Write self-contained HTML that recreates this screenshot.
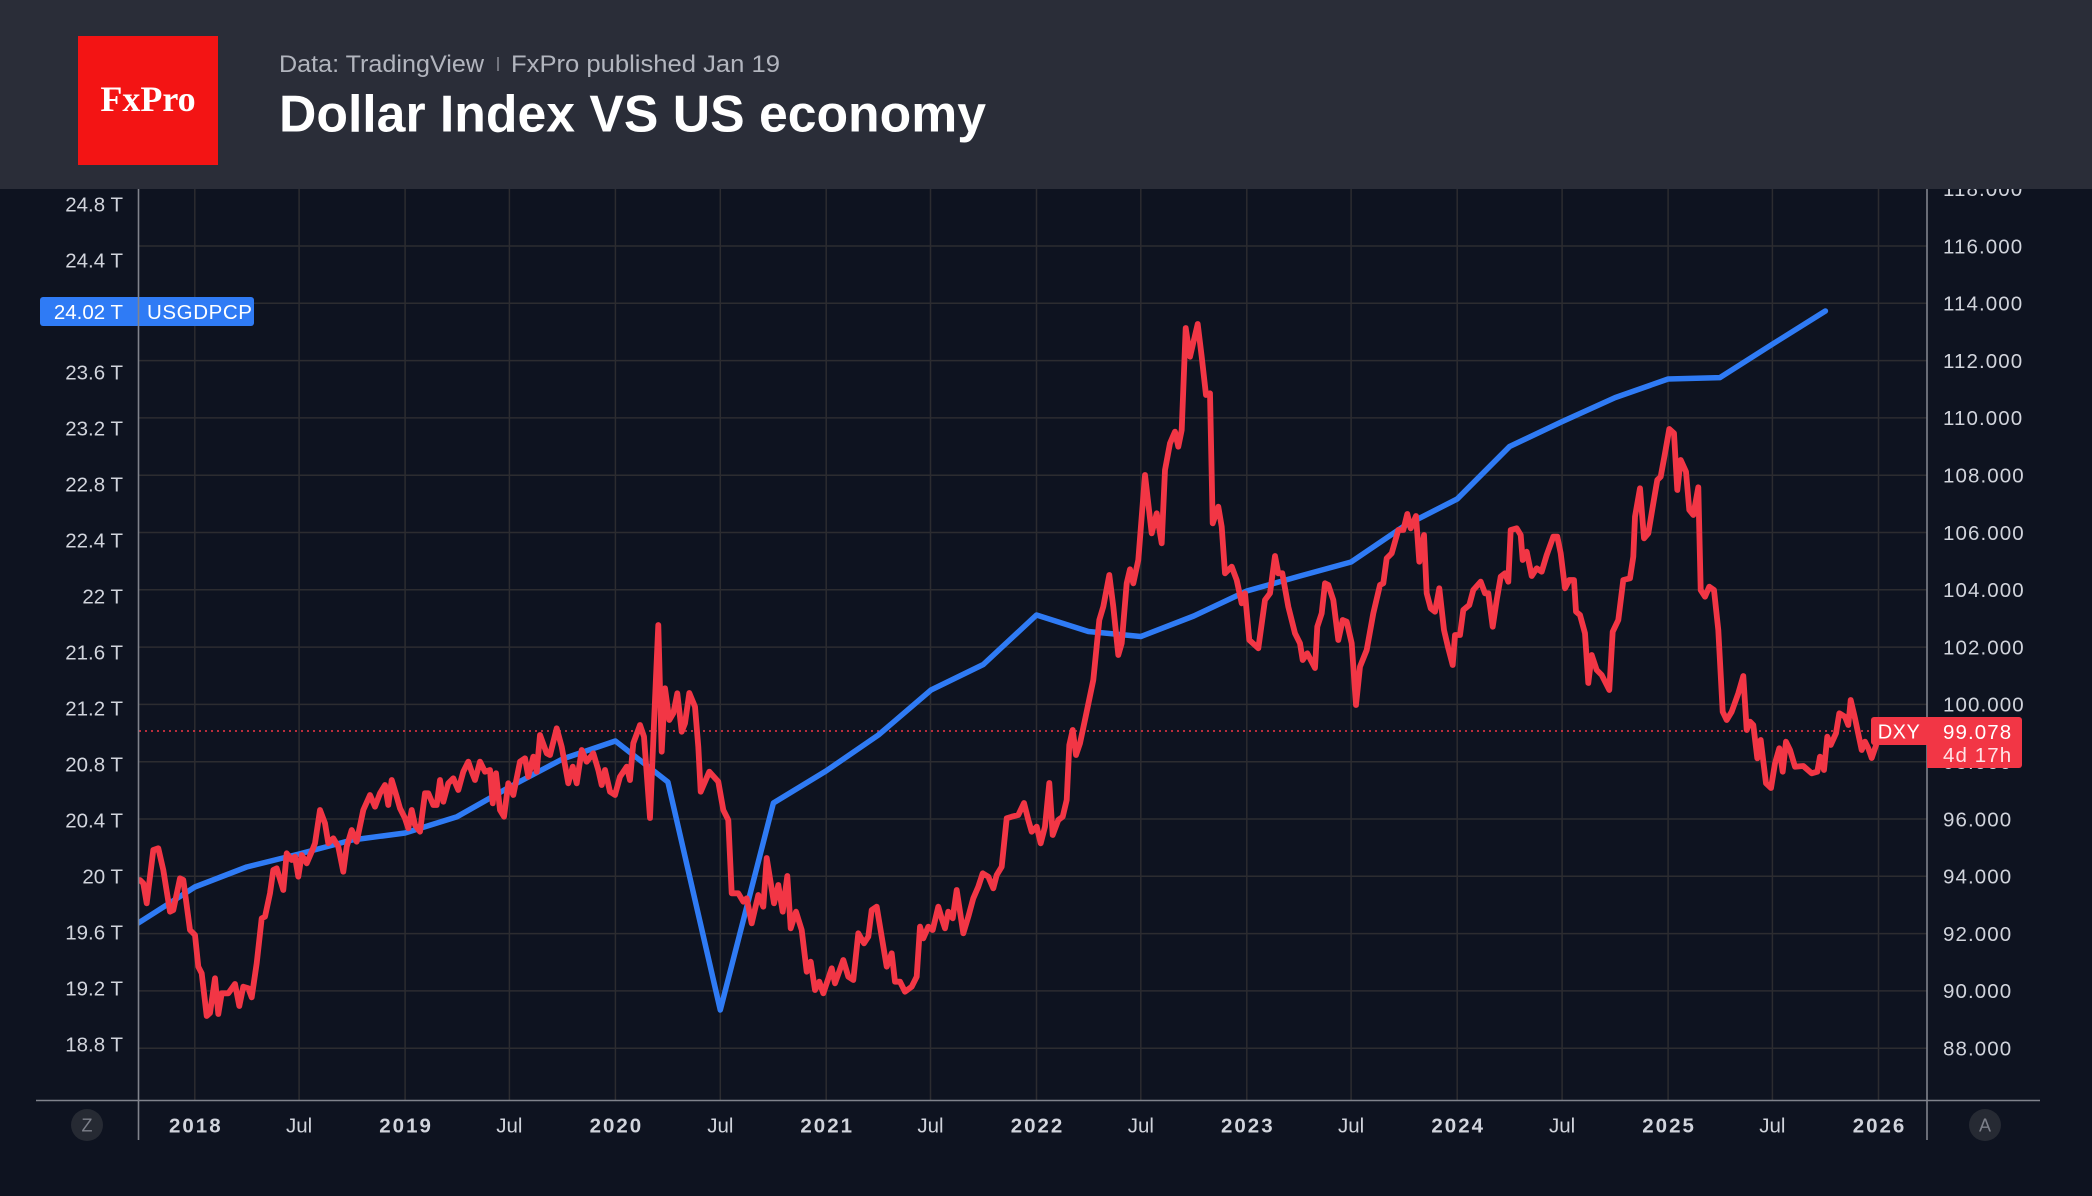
<!DOCTYPE html>
<html>
<head>
<meta charset="utf-8">
<style>
html,body{margin:0;padding:0;background:#0e1320;}
body{width:2092px;height:1196px;overflow:hidden;}
svg{display:block;}
text{font-family:"Liberation Sans",sans-serif;}
</style>
</head>
<body>
<svg width="2092" height="1196" viewBox="0 0 2092 1196" xmlns="http://www.w3.org/2000/svg">
<defs>
<clipPath id="plot"><rect x="139" y="189" width="1788" height="911"/></clipPath>
</defs>
<rect x="0" y="0" width="2092" height="1196" fill="#0e1320"/>

<!-- grid -->
<g stroke="#2c2c30" stroke-width="1.5">
<line x1="139" y1="246" x2="1927" y2="246"/>
<line x1="139" y1="303.3" x2="1927" y2="303.3"/>
<line x1="139" y1="360.6" x2="1927" y2="360.6"/>
<line x1="139" y1="417.9" x2="1927" y2="417.9"/>
<line x1="139" y1="475.2" x2="1927" y2="475.2"/>
<line x1="139" y1="532.5" x2="1927" y2="532.5"/>
<line x1="139" y1="589.8" x2="1927" y2="589.8"/>
<line x1="139" y1="647.1" x2="1927" y2="647.1"/>
<line x1="139" y1="704.4" x2="1927" y2="704.4"/>
<line x1="139" y1="761.7" x2="1927" y2="761.7"/>
<line x1="139" y1="819" x2="1927" y2="819"/>
<line x1="139" y1="876.3" x2="1927" y2="876.3"/>
<line x1="139" y1="933.6" x2="1927" y2="933.6"/>
<line x1="139" y1="990.9" x2="1927" y2="990.9"/>
<line x1="139" y1="1048.2" x2="1927" y2="1048.2"/>
<line x1="194.8" y1="189" x2="194.8" y2="1100"/>
<line x1="299.1" y1="189" x2="299.1" y2="1100"/>
<line x1="405.1" y1="189" x2="405.1" y2="1100"/>
<line x1="509.4" y1="189" x2="509.4" y2="1100"/>
<line x1="615.4" y1="189" x2="615.4" y2="1100"/>
<line x1="720.3" y1="189" x2="720.3" y2="1100"/>
<line x1="826.2" y1="189" x2="826.2" y2="1100"/>
<line x1="930.5" y1="189" x2="930.5" y2="1100"/>
<line x1="1036.5" y1="189" x2="1036.5" y2="1100"/>
<line x1="1140.8" y1="189" x2="1140.8" y2="1100"/>
<line x1="1246.8" y1="189" x2="1246.8" y2="1100"/>
<line x1="1351.1" y1="189" x2="1351.1" y2="1100"/>
<line x1="1457.2" y1="189" x2="1457.2" y2="1100"/>
<line x1="1562.1" y1="189" x2="1562.1" y2="1100"/>
<line x1="1668.1" y1="189" x2="1668.1" y2="1100"/>
<line x1="1772.4" y1="189" x2="1772.4" y2="1100"/>
<line x1="1878.5" y1="189" x2="1878.5" y2="1100"/>
</g>

<!-- dotted last-price line -->
<line x1="139" y1="731" x2="1870" y2="731" stroke="#f23645" stroke-width="1.6" stroke-dasharray="2 4"/>

<g clip-path="url(#plot)" fill="none" stroke-linejoin="round" stroke-linecap="round">
<!-- GDP (blue) -->
<polyline stroke="#2f7bf5" stroke-width="5.5" points="130,928 141.8,920.8 194.8,887 246.7,867 299,854 352,840 405,833 457.1,816.7 509.5,787 562.5,759 615.4,741 667.9,782 720.3,1010 773.4,803 826,771 878.4,735 931,690 983.3,664.5 1036.5,615 1088.4,631.5 1140.8,636.5 1193.8,616 1246.8,591 1298.7,576.4 1351.1,562 1404.2,526 1457.2,499 1509.6,446.5 1562.1,421.6 1615.1,397.6 1668.1,379 1720,377.6 1772.4,344.2 1825.4,311"/>
<!-- DXY (red) -->
<polyline stroke="#f23645" stroke-width="5.8" points="140,880 143.3,883.3 146.7,903.3 153.3,850 158.3,848.3 163.3,870 170,911.7 173.3,910 180,878.3 183.3,880 190,930 195,935 198.3,966.7 201.7,973.3 206.7,1016 210,1013 215,978.3 218.3,1014 221.7,993.3 228.3,993.3 235,984 239.3,1006 243.3,986.7 248.3,988.3 251.7,997.3 256.7,963.3 261.7,918.3 265,916.7 270,893.3 273.3,870 276.7,868.3 283.3,890 286.7,853.3 291.7,860 295,856.7 298.3,876.7 301.7,855 306.7,863.3 311.7,851.7 315,843.3 320,810 325,823.3 328.3,843.3 333.3,838.3 338.3,846.7 343.3,871.7 346.7,846.7 351.7,830 356.7,841.7 363.3,810 370,795 375,806.7 380,793.3 385,785 388.3,805 391.7,780 396.7,796.7 400,808.3 405,818.3 408.3,828.3 411.7,810 415,825 420,831.7 425,793.3 428.3,793.3 433.3,805 436.7,805 440,780 443.3,801.7 448.3,783.3 453.3,778.3 458.3,790 463.3,771.7 468.3,761.7 471.7,771.7 475,780 480,761.7 485,771.7 490,770 492.7,803.3 496,773.3 500,810 504,816.7 508.3,783.3 513.3,795 520,761.7 525,758.3 528.3,776.7 533.3,756.7 536.7,771.7 540,735 546.7,753.3 550,755 556.7,728.3 561.7,746.7 568.3,783.3 572.7,766.7 576.7,783.3 581.7,750 586.7,761.7 593.3,753.3 598.3,770 601.7,785 605,770 610,791.7 615,795 620,776.7 626.7,766.7 630,780 633.3,743.3 640,725 644,736.7 650,818 655,700 658.3,625 661.7,751.7 665,688.3 669.3,720 673.3,713.3 677.3,693.3 681.7,731.7 685,723.3 689.3,693 695,706.7 698.3,746.7 700.7,791.7 705,781.7 709.3,771.7 718.3,781.7 723.3,810 728.3,820 731.7,893.3 738.3,893.3 743.3,901.7 746.7,898.3 751.7,923.3 758.3,895 763.3,906.7 766.7,858 774,903.3 778.3,885 782.7,911.7 787.3,876 790.7,928.3 796,911.7 801.7,930 806.7,971.7 810.7,961.7 815,990 819.3,981.7 823.3,993.3 831.7,968.3 835,983.3 843.3,960 848.3,976.7 853.3,980 858.3,933.3 864,943.3 868.3,936.7 871.7,910 876.7,906.7 881.7,936.7 886.7,966.7 891.7,953.3 895,981.7 900,981.7 905,991.7 911.7,986.7 916.7,976.7 920,926.7 923.3,938.3 928.3,926.7 932.7,930 938.3,906.7 941.7,918.3 945,928.3 948.3,911.7 952.7,918.3 956.7,890 963.3,933.3 968.3,916.7 973.3,898.3 978.3,886.7 982.7,873.3 988.3,876.7 993.3,888.3 996.7,875 1001.7,866.7 1006.7,818.3 1011.7,816.7 1018.3,815 1024,803 1028.3,820 1031.7,831.7 1036.7,826.7 1040.7,843.3 1045,826.7 1049.3,783 1052.7,835 1058.3,820 1062.7,816.7 1066.7,800 1069.3,745 1072.7,730 1076,755 1080,743.3 1086,715 1093.3,680 1099.3,620 1103.3,606.7 1109.3,575 1113.3,606.7 1118.3,655 1121.7,643.3 1126.7,583.3 1130,569.3 1133.3,583.3 1138.3,560 1145,475 1151.7,533.3 1156.7,513.3 1161.7,543.3 1165,470 1170,443.3 1175,431.7 1178.3,446.7 1181.7,430 1185.7,328 1190,356.7 1197.7,324 1201.7,356.7 1206,395 1210,393.3 1212.7,523.3 1218.3,506.7 1221.7,526.7 1225,573.3 1231.7,566.7 1236.7,580 1241.7,603.3 1245,593.3 1249.3,640 1258.3,648.3 1265,600 1270,593.3 1275,556 1278.3,573.3 1282.3,573.3 1288.3,606.7 1295,633.3 1300,643.3 1302.7,660 1307.3,653.3 1315,668 1317.3,626.7 1321.7,613.3 1325,583.3 1328.3,585 1333.3,600 1338.3,640 1342.7,620 1346.7,621.7 1351.7,643.3 1356,705 1360,666.7 1366.7,650 1373.3,613.3 1380,585 1383.3,583.3 1386.7,558.3 1391.7,553.3 1398.3,530 1403.3,530 1407.3,514 1410.7,528.3 1416,516 1419.3,561.7 1424,535 1426.7,593.3 1430.7,608.3 1435,611.7 1439.3,588.3 1444,630 1448.3,648.3 1452.7,665 1455,635 1460,635 1463.3,610 1469.3,605 1473.3,590 1480.7,581.7 1485,593.3 1488.3,593.3 1492.7,626.7 1496.7,600 1500.7,576.7 1505,573.3 1508.3,581.7 1510.7,530 1516.7,528.3 1520.7,535 1522.7,560 1526.7,551.7 1531.7,576 1536.7,568.3 1541.7,571.7 1546.7,555 1553.3,536.7 1557.3,536.7 1560.7,553.3 1565,588.3 1569.3,580 1574,580 1576,611.7 1580,615 1585,633.3 1588.3,683 1591.7,655 1596.7,670 1601.7,675 1609.3,690 1612.7,631.7 1618.3,620 1623.3,580 1630,578.3 1633.3,556.7 1635,516.7 1640,488.3 1644,538.3 1648.3,533.3 1653.3,503.3 1657.3,480 1660.7,476.7 1665,453.3 1669.3,429 1674,433.3 1677.3,490 1680.7,460 1686,471.7 1689.3,510 1693.3,515 1698.3,487.3 1700.7,590 1705,596.7 1709.3,586.7 1714,590 1718.3,630 1722.7,711.7 1726.7,720 1731.7,711.7 1738.3,693.3 1743.3,676 1746.7,730 1750,721.7 1753.3,725 1757.3,758.3 1760.7,740 1766,783.3 1771,788 1775,763.3 1779.3,748.3 1782.7,771.7 1786,741.7 1790,750 1795,766.7 1803.3,766 1811.7,773.3 1817.3,771.7 1820,756.7 1824,770 1827.3,736.7 1830.7,745 1836,733.3 1839.3,713.3 1845,716.7 1848.3,725 1850.7,700 1855,718.3 1861.7,750 1865,741.7 1868.3,748.3 1871.7,758 1877.3,741.7 1880,731"/>
</g>

<!-- right axis labels -->
<g fill="#d1d4dc" font-size="20.5" letter-spacing="1.1">
<text x="1943" y="196">118.000</text>
<text x="1943" y="253.3">116.000</text>
<text x="1943" y="310.6">114.000</text>
<text x="1943" y="367.9">112.000</text>
<text x="1943" y="425.2">110.000</text>
<text x="1943" y="482.5">108.000</text>
<text x="1943" y="539.8">106.000</text>
<text x="1943" y="597.1">104.000</text>
<text x="1943" y="654.4">102.000</text>
<text x="1943" y="711.7">100.000</text>
<text x="1943" y="769">98.000</text>
<text x="1943" y="826.3">96.000</text>
<text x="1943" y="883.6">94.000</text>
<text x="1943" y="940.9">92.000</text>
<text x="1943" y="998.2">90.000</text>
<text x="1943" y="1055.5">88.000</text>
</g>

<!-- left axis labels -->
<g fill="#d1d4dc" font-size="20.5" text-anchor="end">
<text x="123" y="211.5">24.8 T</text>
<text x="123" y="267.5">24.4 T</text>
<text x="123" y="379.5">23.6 T</text>
<text x="123" y="435.5">23.2 T</text>
<text x="123" y="491.5">22.8 T</text>
<text x="123" y="547.5">22.4 T</text>
<text x="123" y="603.5">22 T</text>
<text x="123" y="659.5">21.6 T</text>
<text x="123" y="715.5">21.2 T</text>
<text x="123" y="771.5">20.8 T</text>
<text x="123" y="827.5">20.4 T</text>
<text x="123" y="883.5">20 T</text>
<text x="123" y="939.5">19.6 T</text>
<text x="123" y="995.5">19.2 T</text>
<text x="123" y="1051.5">18.8 T</text>
</g>

<!-- USGDPCP label -->
<rect x="40" y="297" width="214" height="29" rx="3" fill="#2f7bf5"/>
<text x="123" y="319" fill="#ffffff" font-size="20.5" text-anchor="end">24.02 T</text>
<text x="147" y="319" fill="#ffffff" font-size="20.5" letter-spacing="0.6">USGDPCP</text>

<!-- axes -->
<g stroke="#80838c" stroke-width="1.6">
<line x1="138.5" y1="189" x2="138.5" y2="1140"/>
<line x1="1927" y1="189" x2="1927" y2="1140"/>
<line x1="36" y1="1100.5" x2="2040" y2="1100.5"/>
</g>

<!-- DXY labels -->
<path d="M1874,717 H1927 V745 H1874 A3,3 0 0 1 1871,742 V720 A3,3 0 0 1 1874,717 Z" fill="#f23645"/>
<text x="1899" y="738.5" fill="#ffffff" font-size="20" text-anchor="middle" letter-spacing="0.5">DXY</text>
<path d="M1927,717 H2019 A3,3 0 0 1 2022,720 V765 A3,3 0 0 1 2019,768 H1927 Z" fill="#f23645"/>
<text x="1943" y="739" fill="#ffffff" font-size="20.5" letter-spacing="1.1">99.078</text>
<text x="1943" y="762" fill="#ffe3e6" font-size="20.5" letter-spacing="1.1">4d 17h</text>

<!-- time axis labels -->
<g fill="#d1d4dc" font-size="20.5" text-anchor="middle">
<text x="195.8" y="1132.5" font-weight="bold" letter-spacing="2">2018</text>
<text x="299.1" y="1132.5">Jul</text>
<text x="406.1" y="1132.5" font-weight="bold" letter-spacing="2">2019</text>
<text x="509.4" y="1132.5">Jul</text>
<text x="616.4" y="1132.5" font-weight="bold" letter-spacing="2">2020</text>
<text x="720.3" y="1132.5">Jul</text>
<text x="827.2" y="1132.5" font-weight="bold" letter-spacing="2">2021</text>
<text x="930.5" y="1132.5">Jul</text>
<text x="1037.5" y="1132.5" font-weight="bold" letter-spacing="2">2022</text>
<text x="1140.8" y="1132.5">Jul</text>
<text x="1247.8" y="1132.5" font-weight="bold" letter-spacing="2">2023</text>
<text x="1351.1" y="1132.5">Jul</text>
<text x="1458.2" y="1132.5" font-weight="bold" letter-spacing="2">2024</text>
<text x="1562.1" y="1132.5">Jul</text>
<text x="1669.1" y="1132.5" font-weight="bold" letter-spacing="2">2025</text>
<text x="1772.4" y="1132.5">Jul</text>
<text x="1879.5" y="1132.5" font-weight="bold" letter-spacing="2">2026</text>
</g>

<!-- Z / A buttons -->
<circle cx="87" cy="1125" r="16" fill="#262a33"/>
<text x="87" y="1131.5" fill="#7d808a" font-size="18" text-anchor="middle">Z</text>
<circle cx="1985" cy="1125" r="16" fill="#262a33"/>
<text x="1985" y="1131.5" fill="#7d808a" font-size="18" text-anchor="middle">A</text>

<!-- header -->
<rect x="0" y="0" width="2092" height="189" fill="#2a2d38"/>
<rect x="78" y="36" width="140" height="129" fill="#f31414"/>
<text x="148" y="111" fill="#ffffff" font-size="36" font-weight="bold" text-anchor="middle" style="font-family:'Liberation Serif',serif">FxPro</text>
<text x="279" y="72" fill="#b2b5be" font-size="24" textLength="205" lengthAdjust="spacingAndGlyphs">Data: TradingView</text>
<line x1="498" y1="57" x2="498" y2="71" stroke="#8a8d96" stroke-width="1.5"/>
<text x="511" y="72" fill="#b2b5be" font-size="24" textLength="269" lengthAdjust="spacingAndGlyphs">FxPro published Jan 19</text>
<text x="279" y="131.5" fill="#ffffff" font-size="52" font-weight="bold" textLength="707" lengthAdjust="spacingAndGlyphs">Dollar Index VS US economy</text>
</svg>
</body>
</html>
